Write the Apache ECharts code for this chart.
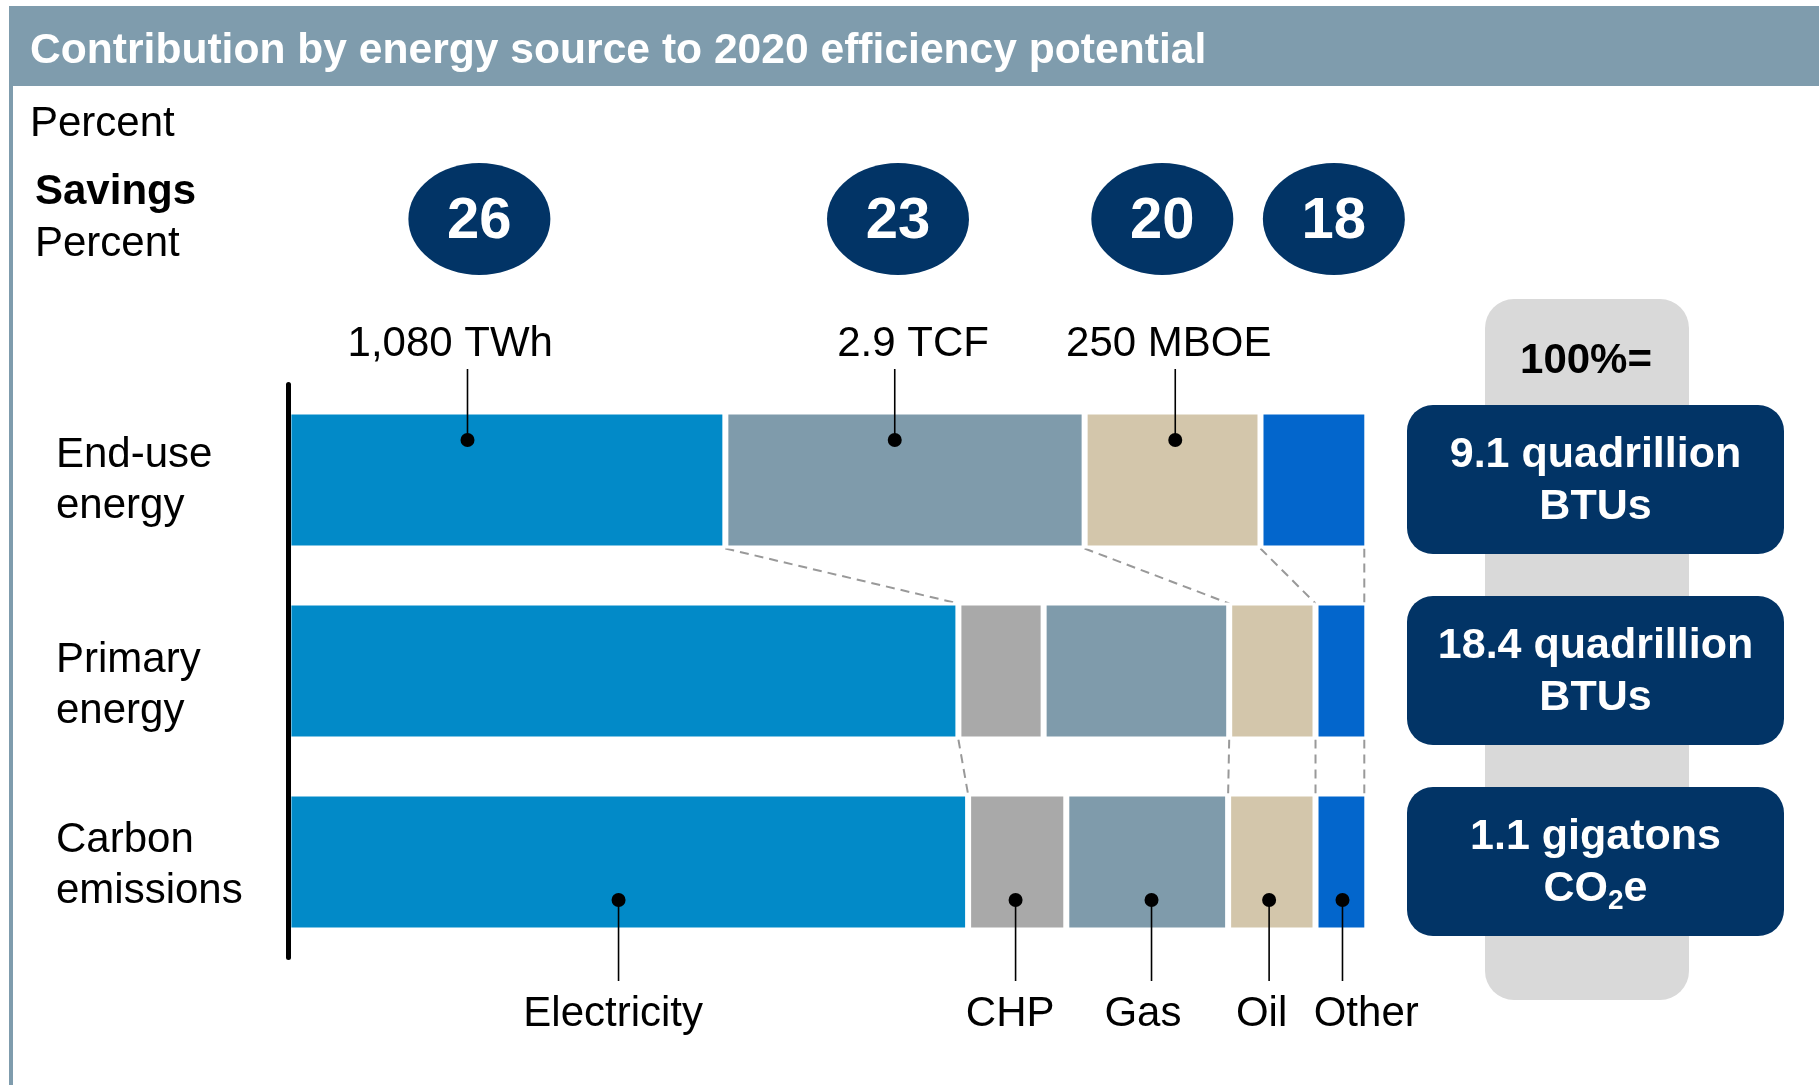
<!DOCTYPE html>
<html>
<head>
<meta charset="utf-8">
<title>Contribution by energy source to 2020 efficiency potential</title>
<script src="https://cdn.jsdelivr.net/npm/echarts/dist/echarts.min.js"></script>
<style>
  html, body { margin: 0; padding: 0; background: #fff; }
  #main { width: 1819px; height: 1085px; }
</style>
</head>
<body>
<div id="main"></div>
<script>
// rows of the chart (top to bottom)
const rows = ["End-use\nenergy", "Primary\nenergy", "Carbon\nemissions"];
const sources = ["Electricity", "CHP", "Gas", "Oil", "Other"];
// percent shares per row
const electricity = [40.5, 62.1, 63.0];
const chp = ["-", 7.9, 9.1];
const gas = [33.3, 17.2, 15.0];
const oil = [16.3, 8.0, 8.1];
const other = [9.9, 4.8, 4.8];
// savings per source, placed over the end-use bar
const savings = ["26", "23", "20", "18"];
const savingsAt = [17.7, 56.5, 81.0, 96.9];
// volumes above the end-use bar (leader point / label centre)
const volumes = ["1,080 TWh", "2.9 TCF", "250 MBOE"];
const volumeAt = [16.6, 56.2, 82.2];
const volumeLabelAt = [15.0, 57.9, 81.6];
// source names under the carbon bar (leader point / label centre)
const sourceAt = [30.6, 67.4, 80.0, 90.9, 97.7];
const sourceLabelAt = [30.1, 66.9, 79.2, 90.2, 99.9];
// 100% = totals per row
const totals = [
  "{b|9.1 quadrillion}\n{b|BTUs}",
  "{b|18.4 quadrillion}\n{b|BTUs}",
  "{b|1.1 gigatons}\n{b|CO}{s|2}{b|e}",
];

const NAVY = "#023466";
const FONT = "Liberation Sans";
const colors = {
  Electricity: "#028ac8",
  CHP: "#a9a9a9",
  Gas: "#7f9bab",
  Oil: "#d3c6ab",
  Other: "#0366cc",
};
const seriesData = {
  Electricity: electricity,
  CHP: chp,
  Gas: gas,
  Oil: oil,
  Other: other,
};
const BORDER = 3; // white border drawn inside each bar -> 6px gaps
const BAR = 137; // bar thickness incl. border
const HALF = BAR / 2 - BORDER; // visible half height
// row names sit a little below the bar centre in the original
const rowLabelDrop = [1, 15, 4];

const num = (v) => (v === "-" ? 0 : v);
// cumulative ends of electricity, gas, oil, other in a row
function boundaries(r) {
  const e = electricity[r];
  const g = e + num(chp[r]) + gas[r];
  const o = g + oil[r];
  return [e, g, o, o + other[r]];
}

function renderLinks(params, api) {
  const r = api.value(1);
  const a = boundaries(r);
  const b = boundaries(r + 1);
  const y1 = api.coord([0, r])[1] + HALF + 3;
  const y2 = api.coord([0, r + 1])[1] - HALF - 2;
  return {
    type: "group",
    children: a.map((v, i) => ({
      type: "line",
      shape: {
        x1: api.coord([v, r])[0] - (i === 3 ? BORDER : 0),
        y1: y1,
        x2: api.coord([b[i], r + 1])[0] - (i === 3 ? BORDER : 0),
        y2: y2,
      },
      style: { stroke: "#999", lineWidth: 2, lineDash: [9, 6] },
    })),
  };
}

function renderRowLabel(params, api) {
  const cy = api.coord([0, api.value(1)])[1];
  return {
    type: "text",
    style: {
      x: 56,
      y: cy + rowLabelDrop[params.dataIndex],
      text: rows[params.dataIndex],
      fill: "#000",
      font: '42px "' + FONT + '"',
      lineHeight: 51,
      align: "left",
      verticalAlign: "middle",
    },
  };
}

function renderCallout(params, api) {
  const p = api.coord([api.value(0), api.value(1)]);
  const up = api.value(2) < 0;
  const i = params.dataIndex;
  const text = up ? volumes[i] : sources[i];
  const tx = api.coord([up ? volumeLabelAt[i] : sourceLabelAt[i], 0])[0];
  const dotY = p[1] + (up ? -40 : 38);
  const endY = p[1] + (up ? -111 : 119);
  const textY = p[1] + (up ? -136 : 152);
  return {
    type: "group",
    children: [
      {
        type: "line",
        shape: { x1: p[0], y1: dotY, x2: p[0], y2: endY },
        style: { stroke: "#000", lineWidth: 1.6 },
      },
      {
        type: "circle",
        shape: { cx: p[0], cy: dotY, r: 7 },
        style: { fill: "#000" },
      },
      {
        type: "text",
        style: {
          x: tx,
          y: textY,
          text: text,
          fill: "#000",
          font: '42px "' + FONT + '"',
          align: "center",
          verticalAlign: "middle",
        },
      },
    ],
  };
}

function renderSavings(params, api) {
  const p = api.coord([api.value(0), api.value(1)]);
  const cy = p[1] - 261;
  return {
    type: "group",
    children: [
      {
        type: "ellipse",
        shape: { cx: p[0], cy: cy, rx: 71, ry: 56 },
        style: { fill: NAVY },
      },
      {
        type: "text",
        style: {
          x: p[0],
          y: cy + 3,
          text: savings[params.dataIndex],
          fill: "#fff",
          font: 'bold 58px "' + FONT + '"',
          align: "center",
          verticalAlign: "middle",
        },
      },
    ],
  };
}

function renderTotal(params, api) {
  const cy = api.coord([0, api.value(1)])[1];
  return {
    type: "group",
    children: [
      {
        type: "rect",
        shape: { x: 1407, y: cy - 75, width: 377, height: 149, r: 26 },
        style: { fill: NAVY },
      },
      {
        type: "text",
        style: {
          x: 1595.5,
          y: cy + 1,
          text: totals[params.dataIndex],
          align: "center",
          verticalAlign: "middle",
          rich: {
            b: {
              fill: "#fff",
              fontSize: 43,
              fontWeight: "bold",
              fontFamily: FONT,
              lineHeight: 52,
            },
            s: {
              fill: "#fff",
              fontSize: 28,
              fontWeight: "bold",
              fontFamily: FONT,
              verticalAlign: "bottom",
            },
          },
        },
      },
    ],
  };
}

const chart = echarts.init(document.getElementById("main"), null, { renderer: "canvas" });

const barSeries = sources.map((name) => ({
  name: name,
  type: "bar",
  stack: "total",
  barWidth: BAR,
  silent: true,
  data: seriesData[name],
  itemStyle: { color: colors[name], borderColor: "#fff", borderWidth: BORDER },
}));

const option = {
  animation: false,
  backgroundColor: "#fff",
  textStyle: { fontFamily: FONT },
  grid: {
    left: 288.4,
    top: 384.5,
    width: 1078.9,
    height: 573,
    containLabel: false,
    outerBoundsMode: "none",
  },
  xAxis: { type: "value", min: 0, max: 100, show: false },
  yAxis: {
    type: "category",
    data: rows,
    inverse: true,
    z: 10,
    axisTick: { show: false },
    axisLabel: { show: false },
    axisLine: { lineStyle: { color: "#000", width: 5, cap: "round" } },
  },
  graphic: [
    { type: "rect", z: 0, shape: { x: 9, y: 6, width: 1810, height: 80 }, style: { fill: "#7f9cad" } },
    { type: "rect", z: 0, shape: { x: 9, y: 6, width: 4, height: 1079 }, style: { fill: "#7f9cad" } },
    {
      type: "text", z: 1,
      style: { x: 30, y: 51, text: "Contribution by energy source to 2020 efficiency potential",
        fill: "#fff", font: 'bold 42.6px "' + FONT + '"', verticalAlign: "middle" },
    },
    {
      type: "text", z: 1,
      style: { x: 30, y: 124, text: "Percent", fill: "#000", font: '42px "' + FONT + '"', verticalAlign: "middle" },
    },
    {
      type: "text", z: 1,
      style: { x: 35, y: 192, text: "Savings", fill: "#000", font: 'bold 42px "' + FONT + '"', verticalAlign: "middle" },
    },
    {
      type: "text", z: 1,
      style: { x: 35, y: 244, text: "Percent", fill: "#000", font: '42px "' + FONT + '"', verticalAlign: "middle" },
    },
    { type: "rect", z: 0, shape: { x: 1485, y: 299, width: 204, height: 701, r: 29 }, style: { fill: "#d9d9d9" } },
    {
      type: "text", z: 1,
      style: { x: 1586, y: 361, text: "100%=", fill: "#000", font: 'bold 42px "' + FONT + '"',
        align: "center", verticalAlign: "middle" },
    },
  ],
  series: barSeries.concat([
    {
      type: "custom",
      clip: false,
      silent: true,
      renderItem: renderRowLabel,
      encode: { x: 0, y: 1 },
      data: rows.map((r, i) => [0, i]),
    },
    {
      type: "custom",
      clip: false,
      silent: true,
      renderItem: renderLinks,
      encode: { x: 0, y: 1 },
      data: [[0, 0], [0, 1]],
    },
    {
      type: "custom",
      clip: false,
      silent: true,
      z: 5,
      renderItem: renderCallout,
      encode: { x: 0, y: 1 },
      data: volumeAt.map((x) => [x, 0, -1]),
    },
    {
      type: "custom",
      clip: false,
      silent: true,
      z: 5,
      renderItem: renderCallout,
      encode: { x: 0, y: 1 },
      data: sourceAt.map((x) => [x, 2, 1]),
    },
    {
      type: "custom",
      clip: false,
      silent: true,
      renderItem: renderSavings,
      encode: { x: 0, y: 1 },
      data: savingsAt.map((x) => [x, 0]),
    },
    {
      type: "custom",
      clip: false,
      silent: true,
      z: 5,
      renderItem: renderTotal,
      encode: { x: 0, y: 1 },
      data: totals.map((t, i) => [0, i]),
    },
  ]),
};

chart.setOption(option);
window.addEventListener("resize", function () {
  chart.resize();
});
</script>
</body>
</html>
